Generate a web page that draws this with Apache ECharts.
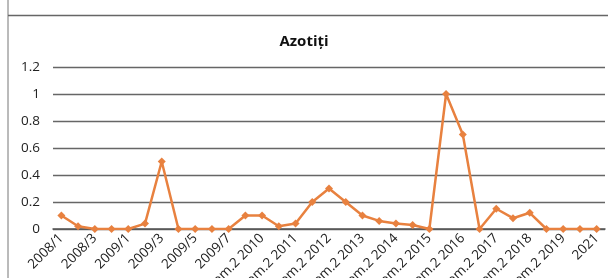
<!DOCTYPE html>
<html>
<head>
<meta charset="utf-8">
<script src="https://cdn.jsdelivr.net/npm/echarts@6/dist/echarts.min.js"></script>
<style>
    html, body { margin: 0; padding: 0; background: #fff; }
    #chart { width: 608px; height: 278px; }
</style>
</head>
<body>
<div id="chart"></div>
<script>
    // categorii (doar una din doua apare pe axa)
    var categories = [
        '2008/1', '2008/2', '2008/3', '2008/4', '2009/1', '2009/2', '2009/3', '2009/4',
        '2009/5', '2009/6', '2009/7', 'sem.1 2010', 'sem.2 2010', 'sem.1 2011', 'sem.2 2011',
        'sem.1 2012', 'sem.2 2012', 'sem.1 2013', 'sem.2 2013', 'sem.1 2014', 'sem.2 2014',
        'sem.1 2015', 'sem.2 2015', 'sem.1 2016', 'sem.2 2016', 'sem.1 2017', 'sem.2 2017',
        'sem.1 2018', 'sem.2 2018', 'sem.1 2019', 'sem.2 2019', '2020', '2021'
    ];
    var azotiti = [
        0.1, 0.02, 0, 0, 0, 0.04, 0.5, 0, 0, 0, 0, 0.1, 0.1, 0.02, 0.04,
        0.2, 0.3, 0.2, 0.1, 0.06, 0.04, 0.03, 0, 1.0, 0.7, 0, 0.15,
        0.08, 0.12, 0, 0, 0, 0
    ];
    var yTicks = [0, 0.2, 0.4, 0.6, 0.8, 1, 1.2];

    var myChart = echarts.init(document.getElementById('chart'));
    var option = {
        animation: false,
        textStyle: { fontFamily: '"Open Sans", sans-serif' },
        title: {
            text: 'Azotiți',
            left: 'center',
            top: 29,
            textStyle: { fontSize: 15, fontWeight: 'bold', color: '#111', fontFamily: '"Open Sans", sans-serif' }
        },
        graphic: [
            { type: 'line', shape: { x1: 8, y1: 0, x2: 8, y2: 278 }, style: { stroke: '#777', lineWidth: 1 } },
            { type: 'line', shape: { x1: 8, y1: 15.5, x2: 608, y2: 15.5 }, style: { stroke: '#666', lineWidth: 1.5 } }
        ],
        grid: { left: 53, right: 3, top: 67, bottom: 49, containLabel: false, outerBoundsMode: 'none' },
        xAxis: {
            type: 'category',
            data: categories,
            boundaryGap: true,
            axisLine: { show: true, lineStyle: { color: '#555', width: 1.5 } },
            axisTick: { show: false },
            axisLabel: {
                interval: 1,
                rotate: 45,
                fontSize: 13.5,
                color: '#222',
                margin: 7
            }
        },
        yAxis: {
            type: 'value',
            min: yTicks[0],
            max: yTicks[yTicks.length - 1],
            interval: 0.2,
            axisLine: { show: false },
            axisTick: { show: false },
            axisLabel: {
                fontSize: 13.5,
                color: '#222',
                margin: 13,
                formatter: function (v) { return String(+v.toFixed(1)); }
            },
            splitLine: { show: true, lineStyle: { color: '#666', width: 1.3 } }
        },
        series: [{
            name: 'Azotiți',
            type: 'line',
            data: azotiti,
            symbol: 'diamond',
            symbolSize: 8,
            lineStyle: { color: '#E8813F', width: 2.5 },
            itemStyle: { color: '#E8813F' }
        }]
    };
    myChart.setOption(option);
</script>
</body>
</html>
